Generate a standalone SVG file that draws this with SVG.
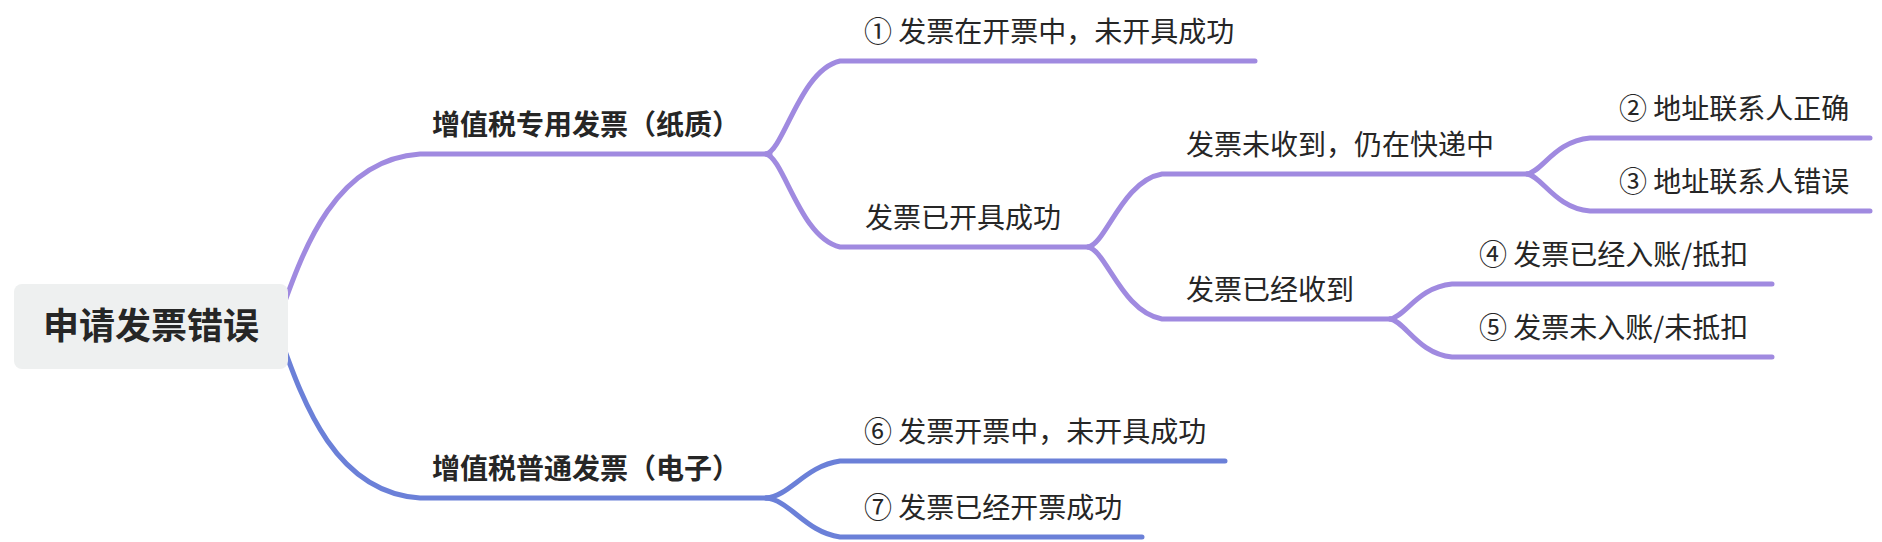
<svg xmlns="http://www.w3.org/2000/svg" width="1882" height="542" viewBox="0 0 1882 542">
<style>
.p{fill:none;stroke:#a08ae0;stroke-width:5;stroke-linecap:round;stroke-linejoin:round}
.b{fill:none;stroke:#6b80d8;stroke-width:5;stroke-linecap:round;stroke-linejoin:round}
text{font-family:"Noto Sans CJK SC","Noto Sans",sans-serif;fill:#262626}
.t{font-size:28px}
.bt{font-size:28px;font-weight:bold}
.rt{font-size:36px;font-weight:bold;text-anchor:middle}
</style>
<rect width="1882" height="542" fill="#ffffff"/>
<g id="connectors">
<path class="p" d="M276 326 C300 260 330 160 420 154 L770 154"/>
<path class="b" d="M276 326 C300 392 330 492 420 498 L770 498"/>
<path class="p" d="M766 154 C784 150 800 70 840 61 L1255 61"/>
<path class="p" d="M766 154 C784 158 800 238 840 247 L1088 247"/>
<path class="p" d="M1088 247 C1106 244 1122 181 1162 174 L1527 174"/>
<path class="p" d="M1088 247 C1106 250 1122 312 1162 319 L1390 319"/>
<path class="p" d="M1527 174 C1542 172 1555 141 1590 138 L1870 138"/>
<path class="p" d="M1527 174 C1542 176 1555 208 1590 211 L1870 211"/>
<path class="p" d="M1390 319 C1405 317 1418 287 1452 284 L1772 284"/>
<path class="p" d="M1390 319 C1405 321 1418 354 1452 357 L1772 357"/>
<path class="b" d="M766 498 C790 496 805 466 840 461 L1225 461"/>
<path class="b" d="M766 498 C790 500 805 532 840 537 L1142 537"/>
</g>
<g id="root">
<rect x="14" y="284" width="274" height="85" rx="8" fill="#eef0f0"/>
<text class="rt" x="151" y="339">申请发票错误</text>
</g>
<g id="n-zhuanyong"><text class="bt" x="432" y="135">增值税专用发票（纸质）</text></g>
<g id="n-putong"><text class="bt" x="432" y="479">增值税普通发票（电子）</text></g>
<g id="n1"><text class="t" x="864" y="42">① 发票在开票中，未开具成功</text></g>
<g id="n-kaiju"><text class="t" x="865" y="228">发票已开具成功</text></g>
<g id="n-weishou"><text class="t" x="1186" y="155">发票未收到，仍在快递中</text></g>
<g id="n-yishou"><text class="t" x="1186" y="300">发票已经收到</text></g>
<g id="n2"><text class="t" x="1619" y="119">② 地址联系人正确</text></g>
<g id="n3"><text class="t" x="1619" y="192">③ 地址联系人错误</text></g>
<g id="n4"><text class="t" x="1479" y="265">④ 发票已经入账/抵扣</text></g>
<g id="n5"><text class="t" x="1479" y="338">⑤ 发票未入账/未抵扣</text></g>
<g id="n6"><text class="t" x="864" y="442">⑥ 发票开票中，未开具成功</text></g>
<g id="n7"><text class="t" x="864" y="518">⑦ 发票已经开票成功</text></g>
</svg>
